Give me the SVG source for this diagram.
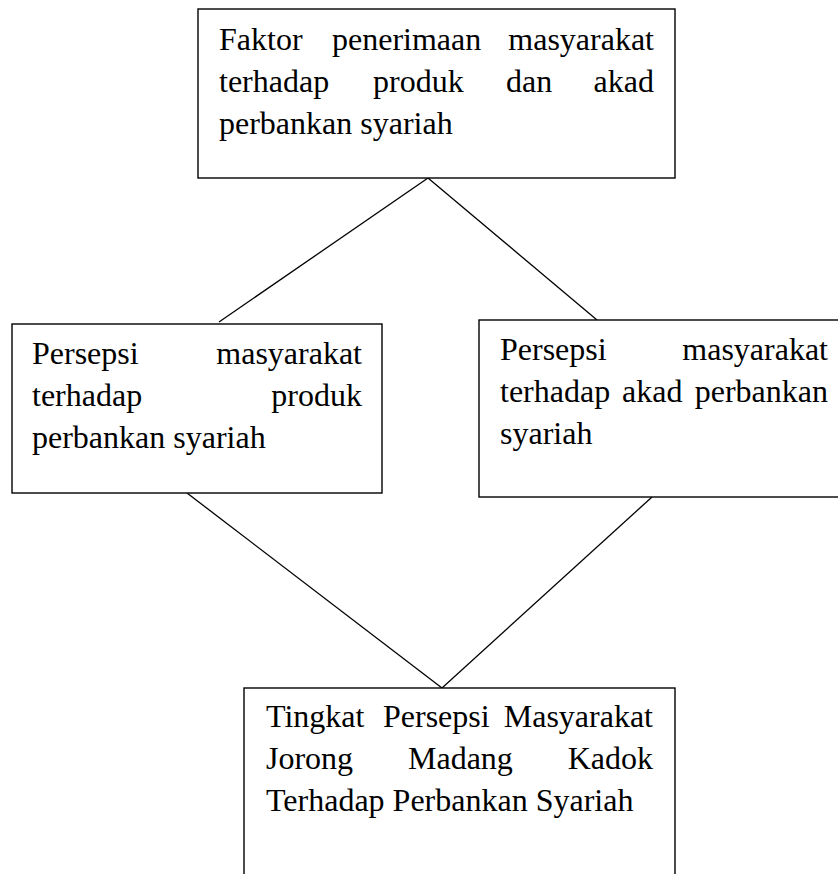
<svg xmlns="http://www.w3.org/2000/svg" width="838" height="874" viewBox="0 0 838 874">
<style>
.box{fill:#fff;stroke:#000;stroke-width:1.4}
.ln{stroke:#000;stroke-width:1.3;fill:none}
text{font-family:"Liberation Serif","Times New Roman",serif;font-size:32px;fill:#000}
.e{text-anchor:end}
</style>
<rect width="838" height="874" fill="#fff"/>
<g id="connectors">
<line class="ln" x1="428" y1="178" x2="219" y2="322"/>
<line class="ln" x1="428" y1="178" x2="597" y2="320"/>
<line class="ln" x1="187" y1="493" x2="442" y2="688"/>
<line class="ln" x1="652" y1="497" x2="442" y2="688"/>
</g>
<g id="node-top">
<rect class="box" x="198" y="9" width="477" height="169"/>
<text x="219" y="50">Faktor</text>
<text x="332" y="50">penerimaan</text>
<text class="e" x="654" y="50">masyarakat</text>
<text x="219" y="92">terhadap</text>
<text x="373" y="92">produk</text>
<text x="506" y="92">dan</text>
<text class="e" x="654" y="92">akad</text>
<text x="219" y="134">perbankan syariah</text>
</g>
<g id="node-left">
<rect class="box" x="12" y="324" width="370" height="169"/>
<text x="32" y="364">Persepsi</text>
<text class="e" x="362" y="364">masyarakat</text>
<text x="32" y="406">terhadap</text>
<text class="e" x="362" y="406">produk</text>
<text x="32" y="448">perbankan syariah</text>
</g>
<g id="node-right">
<rect class="box" x="479" y="320" width="365" height="177"/>
<text x="500" y="360">Persepsi</text>
<text class="e" x="828" y="360">masyarakat</text>
<text x="500" y="402">terhadap</text>
<text x="622" y="402">akad</text>
<text class="e" x="828" y="402">perbankan</text>
<text x="500" y="444">syariah</text>
</g>
<g id="node-bottom">
<rect class="box" x="244" y="688" width="431" height="200"/>
<text x="266" y="727">Tingkat</text>
<text x="383" y="727">Persepsi</text>
<text class="e" x="653" y="727">Masyarakat</text>
<text x="266" y="769">Jorong</text>
<text x="408" y="769">Madang</text>
<text class="e" x="653" y="769">Kadok</text>
<text x="266" y="811">Terhadap Perbankan Syariah</text>
</g>
</svg>
